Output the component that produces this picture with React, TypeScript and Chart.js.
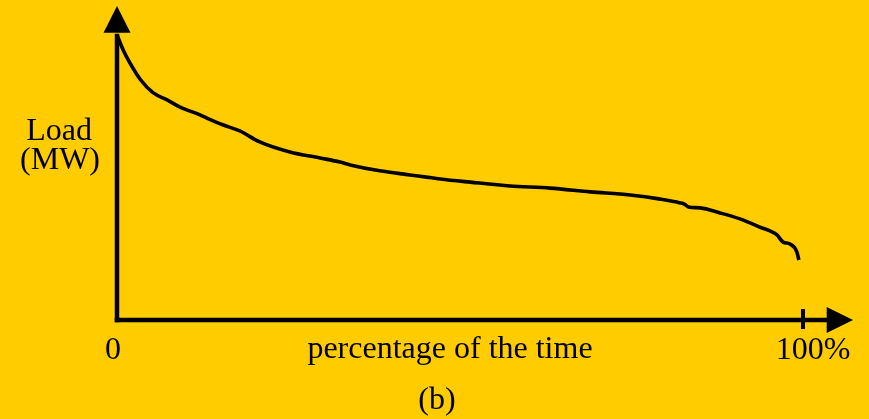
import React, { useEffect, useRef } from "react";
import { Chart, registerables } from "chart.js";

Chart.register(...registerables);

// Load duration curve: percentage of time (%) vs load (arbitrary MW units, 0..100)
const timePercent = [
  0, 0.9, 1.9, 3.4, 5.25, 7.3, 9.2, 12.1, 13.1, 15.5, 17.9, 20.8, 25.2, 29.6,
  32.5, 34.0, 38.3, 42.7, 47.1, 51.5, 57.3, 63.1, 69.0, 74.8, 79.2, 82.1, 82.7, 83.3,
  85.0, 87.9, 90.8, 93.7, 96.2, 97.1, 98.1, 99.1, 99.4,
];
const loadMW = [
  90.8, 86.0, 81.8, 76.6, 72.4, 70.1, 67.8, 65.3, 64.3, 62.1, 60.2, 56.7, 53.5, 51.6,
  50.3, 49.4, 47.5, 46.2, 44.9, 43.9, 42.7, 42.0, 40.8, 39.8, 38.5, 37.3, 36.9, 36.0,
  35.7, 34.1, 32.2, 29.6, 27.1, 24.8, 24.2, 21.7, 19.1,
];
const xTickLabels = ["0", "100%"];
const xTickValues = [0, 100];
const xAxisTitle = "percentage of the time";
const yAxisTitle = ["Load", "(MW)"];
const caption = "(b)";

const BG = "#FFCC00";
const FONT = "32px 'Liberation Serif', 'Times New Roman', serif";

const axesPlugin = {
  id: "customAxes",
  beforeDraw(chart: any) {
    const ctx = chart.ctx;
    ctx.save();
    ctx.fillStyle = BG;
    ctx.fillRect(0, 0, chart.width, chart.height);
    ctx.restore();
  },
  afterDraw(chart: any) {
    const ctx = chart.ctx;
    const xs = chart.scales.x;
    const ys = chart.scales.y;
    const x0 = xs.getPixelForValue(0);
    const y0 = ys.getPixelForValue(0);
    const xArrowBase = xs.getPixelForValue(103.45);
    const xArrowTip = xs.getPixelForValue(107.3);
    const yArrowBase = ys.getPixelForValue(91.5);
    const yArrowTip = ys.getPixelForValue(100);

    ctx.save();
    ctx.strokeStyle = "#000";
    ctx.fillStyle = "#000";
    ctx.lineWidth = 4.5;
    ctx.lineCap = "butt";
    // y axis
    ctx.beginPath();
    ctx.moveTo(x0, y0 + 2.25);
    ctx.lineTo(x0, yArrowBase + 1);
    ctx.stroke();
    // x axis
    ctx.beginPath();
    ctx.moveTo(x0 - 2.25, y0);
    ctx.lineTo(xArrowBase + 1, y0);
    ctx.stroke();
    // arrows
    ctx.beginPath();
    ctx.moveTo(x0, yArrowTip);
    ctx.lineTo(x0 - 13.5, yArrowBase);
    ctx.lineTo(x0 + 13.5, yArrowBase);
    ctx.closePath();
    ctx.fill();
    ctx.beginPath();
    ctx.moveTo(xArrowTip, y0);
    ctx.lineTo(xArrowBase, y0 - 13);
    ctx.lineTo(xArrowBase, y0 + 13);
    ctx.closePath();
    ctx.fill();
    // tick at 100%
    const xt = xs.getPixelForValue(100);
    ctx.lineWidth = 4;
    ctx.beginPath();
    ctx.moveTo(xt, y0 - 11);
    ctx.lineTo(xt, y0 + 9);
    ctx.stroke();

    // texts
    ctx.font = FONT;
    ctx.textAlign = "center";
    ctx.textBaseline = "alphabetic";
    const offsets = [-4, 10];
    xTickValues.forEach((v, i) => {
      ctx.fillText(xTickLabels[i], xs.getPixelForValue(v) + offsets[i], y0 + 39);
    });
    ctx.fillText(xAxisTitle, (xs.left + xs.right) / 2 - 10, y0 + 38);
    ctx.fillText(caption, (xs.left + xs.right) / 2 - 23, y0 + 89);
    ctx.fillText(yAxisTitle[0], x0 - 58, ys.getPixelForValue(57.3));
    ctx.fillText(yAxisTitle[1], x0 - 57, ys.getPixelForValue(48.1));
    ctx.restore();
  },
};

export default function App() {
  const ref = useRef<HTMLCanvasElement | null>(null);
  useEffect(() => {
    if (!ref.current) return;
    const chart = new Chart(ref.current, {
      type: "line",
      data: {
        datasets: [
          {
            data: timePercent.map((t, i) => ({ x: t, y: loadMW[i] })),
            borderColor: "#000",
            borderWidth: 3.6,
            pointRadius: 0,
            cubicInterpolationMode: "monotone",
            fill: false,
          },
        ],
      },
      options: {
        animation: false,
        responsive: false,
        devicePixelRatio: 1,
        layout: { padding: { left: 117, right: 66, top: 6, bottom: 99 } },
        plugins: { legend: { display: false }, tooltip: { enabled: false } },
        scales: {
          x: { type: "linear", min: 0, max: 100, display: false },
          y: { type: "linear", min: 0, max: 100, display: false },
        },
      },
      plugins: [axesPlugin],
    });
    return () => chart.destroy();
  }, []);
  return (
    <div style={{ position: "fixed", left: 0, top: 0, width: 869, height: 419, background: BG }}>
      <canvas ref={ref} width={869} height={419} style={{ display: "block" }} />
    </div>
  );
}
